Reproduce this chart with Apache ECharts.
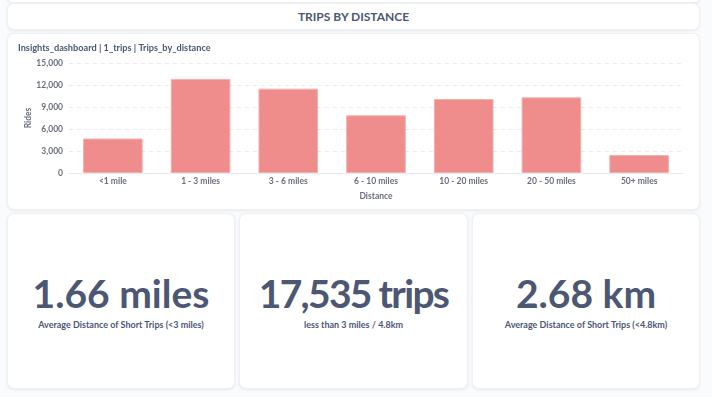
<!DOCTYPE html>
<html>
<head>
<meta charset="utf-8">
<script src="https://cdn.jsdelivr.net/npm/echarts@6/dist/echarts.min.js"></script>
<style>
  html, body { margin: 0; padding: 0; }
  body {
    width: 712px; height: 397px; overflow: hidden;
    background: #f9fbfc; font-family: Lato, "Noto Sans", sans-serif;
    position: relative; color: #4c5773;
  }
  .card {
    position: absolute; background: #fff; border-radius: 7px;
    box-shadow: 0 1px 3px rgba(0,0,0,0.08); border: 1px solid #eef0f3; box-sizing: border-box;
  }
  .head { font-weight: 700; font-size: 12px; text-align: center; line-height: 26px; }
  .scalar { text-align: center; }
  .big { position: absolute; left: 0; right: 0; top: 56px; font-size: 39px; font-weight: 700; line-height: 46px; }
  .sub { position: absolute; left: 0; right: 0; top: 104px; font-size: 9px; font-weight: 700; line-height: 14px; }
</style>
</head>
<body>
<div class="card" style="left:7px;top:-8px;width:693px;height:11px;"></div>
<div class="card head" style="left:7px;top:3px;width:693px;height:27px;">TRIPS BY DISTANCE</div>
<div class="card" style="left:7px;top:33px;width:693px;height:177px;">
  <div id="chart" style="position:absolute;left:0;top:0;width:691px;height:175px;"></div>
</div>
<div class="card scalar" style="left:7px;top:213px;width:228px;height:176px;">
  <div class="big">1.66 miles</div>
  <div class="sub">Average Distance of Short Trips (&lt;3 miles)</div>
</div>
<div class="card scalar" style="left:239px;top:213px;width:229px;height:176px;">
  <div class="big" style="letter-spacing:-1.7px;">17,535 trips</div>
  <div class="sub">less than 3 miles / 4.8km</div>
</div>
<div class="card scalar" style="left:472px;top:213px;width:228px;height:176px;">
  <div class="big">2.68 km</div>
  <div class="sub">Average Distance of Short Trips (&lt;4.8km)</div>
</div>
<script>
// distance buckets and ride counts
var categories = ['<1 mile', '1 - 3 miles', '3 - 6 miles', '6 - 10 miles', '10 - 20 miles', '20 - 50 miles', '50+ miles'];
var rides = [4700, 12835, 11500, 7870, 10090, 10320, 2450];
var yTicks = [0, 3000, 6000, 9000, 12000, 15000];

var chart = echarts.init(document.getElementById('chart'));
chart.setOption({
    animation: false,
    textStyle: { fontFamily: 'Lato' },
    title: {
        text: 'Insights_dashboard | 1_trips | Trips_by_distance',
        left: 10, top: 10, padding: 0,
        textStyle: { fontSize: 9.2, fontWeight: 700, color: '#4c5773', fontFamily: 'Lato' }
    },
    grid: { left: 61, right: 16, top: 29, bottom: 36 },
    xAxis: {
        type: 'category',
        data: categories,
        name: 'Distance', nameLocation: 'middle', nameGap: 19,
        nameTextStyle: { fontSize: 8.5, fontWeight: 700, color: '#696e7b' },
        axisLine: { lineStyle: { color: '#e6e8eb' } },
        axisTick: { show: false },
        axisLabel: { fontSize: 8.5, fontWeight: 700, color: '#696e7b', margin: 4 }
    },
    yAxis: {
        type: 'value',
        min: yTicks[0], max: yTicks[yTicks.length - 1], interval: 3000,
        name: 'Rides', nameLocation: 'middle', nameGap: 36, nameMoveOverlap: false,
        nameTextStyle: { fontSize: 8.5, fontWeight: 700, color: '#696e7b' },
        axisLabel: {
            fontSize: 8.5, fontWeight: 700, color: '#696e7b', margin: 6,
            formatter: function (v) { return v.toLocaleString('en-US'); }
        },
        splitLine: { lineStyle: { type: [4, 4], color: '#e8eaed' } }
    },
    series: [{
        type: 'bar',
        data: rides,
        barCategoryGap: '32%',
        itemStyle: { color: '#ef8c8c', borderColor: '#f5b0b0', borderWidth: 1 }
    }]
});
</script>
</body>
</html>
